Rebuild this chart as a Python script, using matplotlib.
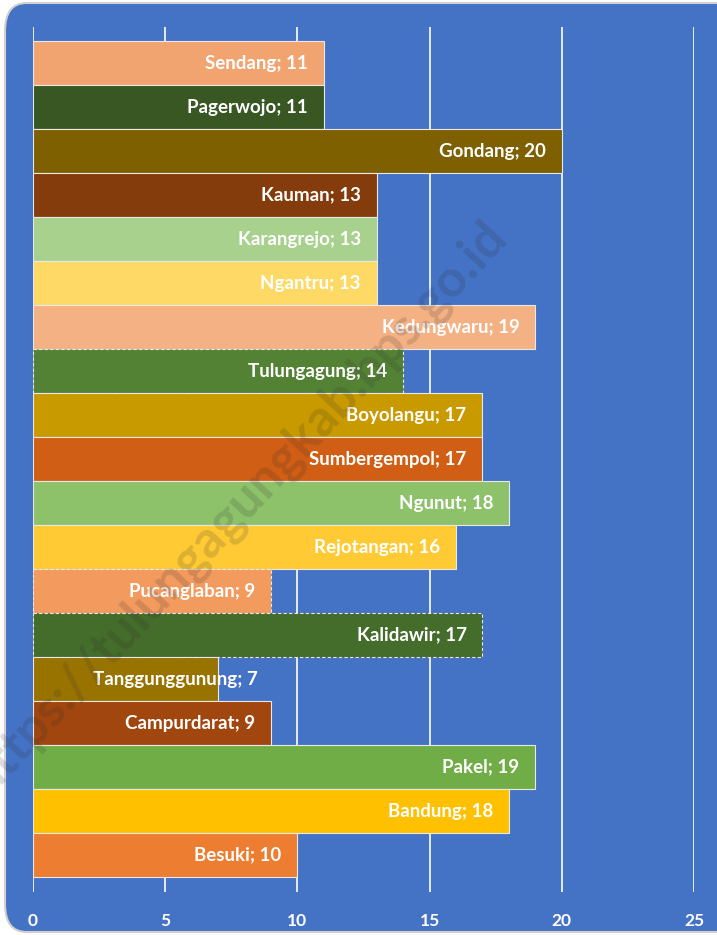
import matplotlib.pyplot as plt
from matplotlib.patches import FancyBboxPatch

# kecamatan data (top to bottom)
names = ["Sendang", "Pagerwojo", "Gondang", "Kauman", "Karangrejo", "Ngantru",
         "Kedungwaru", "Tulungagung", "Boyolangu", "Sumbergempol", "Ngunut",
         "Rejotangan", "Pucanglaban", "Kalidawir", "Tanggunggunung",
         "Campurdarat", "Pakel", "Bandung", "Besuki"]
values = [11, 11, 20, 13, 13, 13, 19, 14, 17, 17, 18, 16, 9, 17, 7, 9, 19, 18, 10]
colors = ["#F2A470", "#385723", "#7F6000", "#843C0C", "#A9D18E", "#FFD966",
          "#F4B183", "#548235", "#C99A00", "#D05E14", "#8DC16A",
          "#FFCA33", "#F39A5E", "#446C2A", "#997300", "#A0460E",
          "#70AD47", "#FFC000", "#ED7D31"]
dashed = ["Tulungagung", "Pucanglaban", "Kalidawir"]
xticks = [0, 5, 10, 15, 20, 25]

plt.rcParams['font.family'] = ['Lato', 'DejaVu Sans']

fig = plt.figure(figsize=(7.17, 9.35), dpi=100)
fig.patch.set_facecolor("white")

# rounded blue panel
panel = FancyBboxPatch((5 / 717, 3 / 935), 1.2, 929 / 935,
                       boxstyle="round,pad=0,rounding_size=0.03",
                       transform=fig.transFigure, facecolor="#4472C4",
                       edgecolor="#D0D0D0", linewidth=1.5, zorder=-5)
fig.patches.append(panel)

ax = fig.add_axes([33 / 717, 1 - 892 / 935, 661 / 717, 865 / 935])
ax.set_facecolor("none")

y = list(range(len(names)))
bars = ax.barh(y, values, height=1.0, color=colors, edgecolor="#E8E8E8",
               linewidth=0.8, zorder=2)
for b, n in zip(bars, names):
    if n in dashed:
        b.set_linestyle((0, (3, 2)))

for yi, n, v in zip(y, names, values):
    txt = f"{n}; {v}"
    xr = v - 0.6 if v > 8 else v + 1.5
    ax.text(xr, yi, txt, ha="right", va="center", color="white",
            fontsize=13.5, fontweight="bold", zorder=4)

ax.set_xlim(0, 25)
ax.set_ylim(18.5 + 0.34, -0.5 - 0.32)
ax.set_xticks(xticks)
ax.set_yticks([])
ax.grid(axis="x", color="white", linewidth=1.2, zorder=1)
ax.set_axisbelow(True)
for s in ax.spines.values():
    s.set_visible(False)
ax.tick_params(axis="x", length=0, pad=15, labelcolor="white", labelsize=12.5)
for lab in ax.get_xticklabels():
    lab.set_fontweight("bold")

# watermark
fig.text(238 / 717, 1 - 508 / 935, "https://tulungagungkab.bps.go.id",
         rotation=47, ha="center", va="center", fontsize=37,
         fontweight="bold", color="#303030", alpha=0.17, zorder=10)

fig.savefig("out.png", dpi=100)
